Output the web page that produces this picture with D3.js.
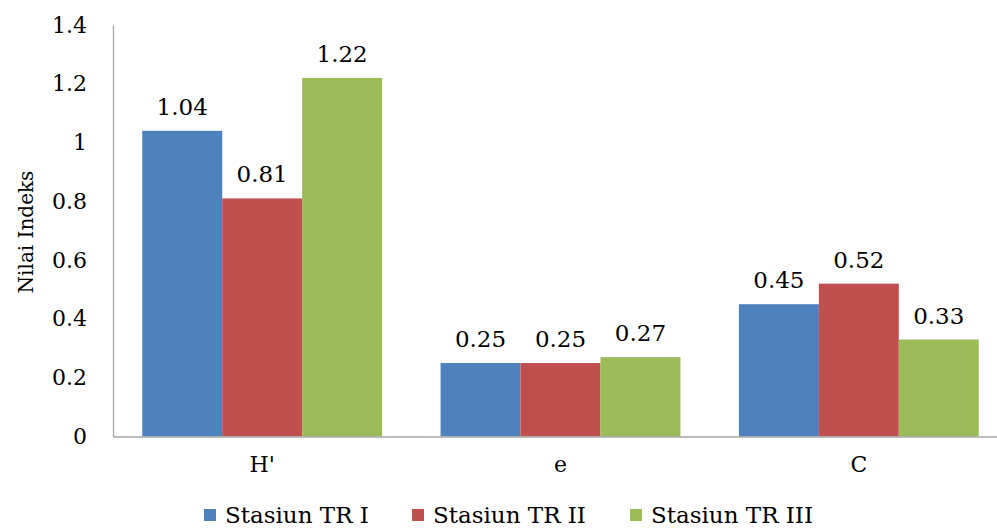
<!DOCTYPE html>
<html><head><meta charset="utf-8">
<script src="https://cdn.jsdelivr.net/npm/d3@7"></script>
<style>body{margin:0;background:#fff}svg{display:block}</style>
</head><body>
<svg id="c" width="997" height="529"></svg>
<script>
const categories = ["H'", "e", "C"];
const seriesNames = ["Stasiun TR I", "Stasiun TR II", "Stasiun TR III"];
const trI = [1.04, 0.25, 0.45];
const trII = [0.81, 0.25, 0.52];
const trIII = [1.22, 0.27, 0.33];
const yTicks = [0, 0.2, 0.4, 0.6, 0.8, 1, 1.2, 1.4];
const colors = ["#4F81BD", "#C0504D", "#9BBB59"];
const series = [trI, trII, trIII];
const FONT = "DejaVu Serif";

const svg = d3.select("#c");
const x0 = d3.scaleBand().domain(categories).range([113, 1008]).paddingInner(0.196).paddingOuter(0.098);
const x1 = d3.scaleBand().domain(d3.range(series.length)).range([0, x0.bandwidth()]);
const y = d3.scaleLinear().domain([0, 1.4]).range([436.5, 25]);

categories.forEach((c, ci) => {
  series.forEach((s, si) => {
    svg.append("rect")
      .attr("x", x0(c) + x1(si)).attr("y", y(s[ci]))
      .attr("width", x1.bandwidth()).attr("height", y(0) - y(s[ci]))
      .attr("fill", colors[si]);
    svg.append("text")
      .attr("x", x0(c) + x1(si) + x1.bandwidth() / 2).attr("y", y(s[ci]) - 16)
      .attr("text-anchor", "middle").attr("font-size", 23).attr("font-family", FONT).text(s[ci]);
  });
});

const ya = svg.append("g").attr("transform", "translate(113,0)")
  .call(d3.axisLeft(y).tickValues(yTicks).tickSize(0).tickPadding(26).tickFormat(d => String(d)));
ya.attr("font-family", FONT).attr("font-size", 22);
ya.select(".domain").attr("stroke", "#a6a6a6").attr("stroke-width", 1.3);
ya.selectAll("text").attr("fill", "#000");

const xa = svg.append("g").attr("transform", "translate(0,436.5)")
  .call(d3.axisBottom(x0).tickSize(0).tickPadding(20));
xa.attr("font-family", FONT).attr("font-size", 22);
xa.select(".domain").attr("stroke", "#a6a6a6").attr("stroke-width", 1.3);
xa.selectAll("text").attr("fill", "#000");

svg.append("text").attr("transform", "translate(33,232) rotate(-90)")
  .attr("text-anchor", "middle").attr("font-size", 20).attr("font-family", FONT).text("Nilai Indeks");

const legX = [204, 412, 630];
seriesNames.forEach((n, i) => {
  const g = svg.append("g").attr("transform", `translate(${legX[i]},509)`);
  g.append("rect").attr("x", 0).attr("y", 0).attr("width", 12).attr("height", 12).attr("fill", colors[i]);
  g.append("text").attr("x", 21).attr("y", 14).attr("font-size", 23).attr("font-family", FONT).text(n);
});
</script>
</body></html>
